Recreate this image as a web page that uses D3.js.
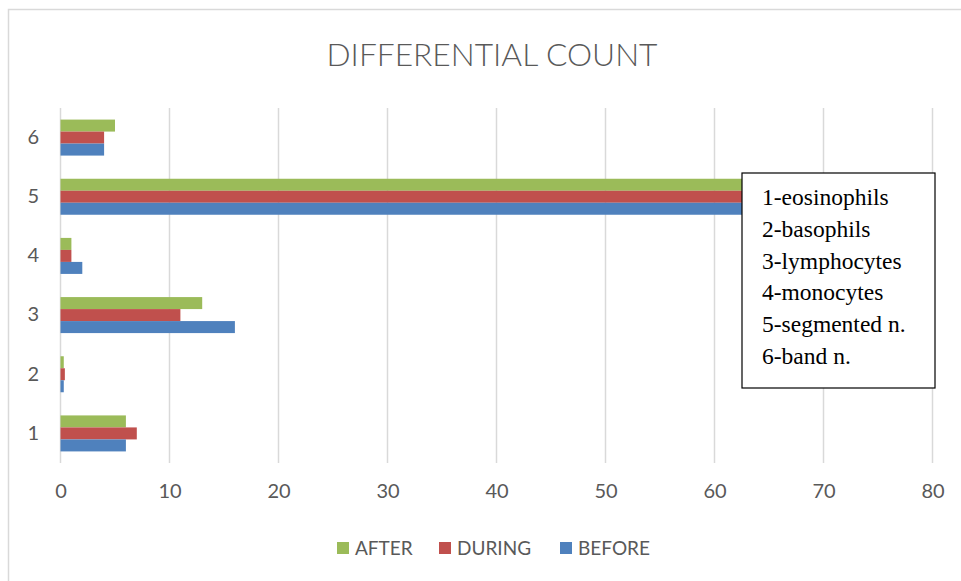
<!DOCTYPE html>
<html>
<head>
<meta charset="utf-8">
<script src="https://cdn.jsdelivr.net/npm/d3@7"></script>
<style>
  html, body { margin: 0; padding: 0; background: #fff; }
  svg { display: block; }
</style>
</head>
<body>
<svg id="chart" width="961" height="581"></svg>
<script>
// ---- data ----
const categories = ["1", "2", "3", "4", "5", "6"];
const seriesNames = ["AFTER", "DURING", "BEFORE"];
const after  = [6, 0.3, 13, 1, 63, 5];
const during = [7, 0.4, 11, 1, 63, 4];
const before = [6, 0.3, 16, 2, 63, 4];
const xTicks = [0, 10, 20, 30, 40, 50, 60, 70, 80];
const notes = ["1-eosinophils", "2-basophils", "3-lymphocytes", "4-monocytes", "5-segmented n.", "6-band n."];
const colors = ["#9bbb59", "#c0504d", "#4f81bd"];

const seriesValues = [after, during, before];

const svg = d3.select("#chart");
const textColor = "#595959";
const font = "Lato, 'Open Sans', sans-serif";

// outer chart border (left and top visible)
svg.append("rect")
  .attr("x", 8.5).attr("y", 9.5)
  .attr("width", 1000).attr("height", 1000)
  .attr("fill", "none").attr("stroke", "#d9d9d9").attr("stroke-width", 1.5);

// title
svg.append("text")
  .attr("x", 492).attr("y", 66)
  .attr("text-anchor", "middle")
  .attr("font-family", font).attr("font-weight", 300)
  .attr("font-size", 32).attr("fill", textColor)
  .attr("textLength", 331).attr("lengthAdjust", "spacingAndGlyphs")
  .text("DIFFERENTIAL COUNT");

// scales
const x = d3.scaleLinear().domain([0, 80]).range([60.5, 932.5]);
const y = d3.scaleBand()
  .domain(categories.slice().reverse())
  .range([108, 463])
  .paddingInner(0.3915).paddingOuter(0.3915 / 2);
const ySub = d3.scaleBand().domain(seriesNames).range([0, y.bandwidth()]);

// gridlines
svg.append("g").selectAll("line")
  .data(xTicks)
  .join("line")
  .attr("x1", d => x(d)).attr("x2", d => x(d))
  .attr("y1", 108).attr("y2", 463)
  .attr("stroke", "#d9d9d9").attr("stroke-width", 1.5);

// x axis labels
const xAxis = d3.axisBottom(x).tickValues(xTicks).tickSize(0).tickPadding(0);
const gx = svg.append("g").attr("transform", "translate(0,484)").call(xAxis);
gx.select(".domain").remove();
gx.selectAll("text")
  .attr("font-family", font).attr("font-size", 20).attr("fill", textColor)
  .attr("dy", "0.71em");

// y axis labels
const yAxis = d3.axisLeft(y).tickSize(0).tickPadding(0);
const gy = svg.append("g").attr("transform", "translate(39,0)").call(yAxis);
gy.select(".domain").remove();
gy.selectAll("text")
  .attr("font-family", font).attr("font-size", 20).attr("fill", textColor);

// bars
const rows = [];
categories.forEach((c, i) => {
  seriesNames.forEach((s, j) => {
    rows.push({ cat: c, series: s, value: seriesValues[j][i], color: colors[j] });
  });
});
svg.append("g").selectAll("rect")
  .data(rows)
  .join("rect")
  .attr("x", x(0))
  .attr("y", d => y(d.cat) + ySub(d.series))
  .attr("width", d => x(d.value) - x(0))
  .attr("height", ySub.bandwidth())
  .attr("fill", d => d.color);

// legend
const legendItems = [
  { name: "AFTER", color: colors[0], x: 337 },
  { name: "DURING", color: colors[1], x: 439 },
  { name: "BEFORE", color: colors[2], x: 560 }
];
const lg = svg.append("g");
legendItems.forEach(it => {
  lg.append("rect").attr("x", it.x).attr("y", 542).attr("width", 12).attr("height", 12).attr("fill", it.color);
  lg.append("text").attr("x", it.x + 18).attr("y", 554.5)
    .attr("font-family", font).attr("font-size", 19).attr("fill", textColor)
    .text(it.name);
});

// annotation box
svg.append("rect")
  .attr("x", 742).attr("y", 173)
  .attr("width", 193).attr("height", 215)
  .attr("fill", "#fff").attr("stroke", "#000").attr("stroke-width", 1.2);
svg.append("g").selectAll("text")
  .data(notes)
  .join("text")
  .attr("x", 762)
  .attr("y", (d, i) => 205 + i * 31.8)
  .attr("font-family", "'Liberation Serif', 'Times New Roman', serif")
  .attr("font-size", 23.5).attr("fill", "#000")
  .text(d => d);
</script>
</body>
</html>
